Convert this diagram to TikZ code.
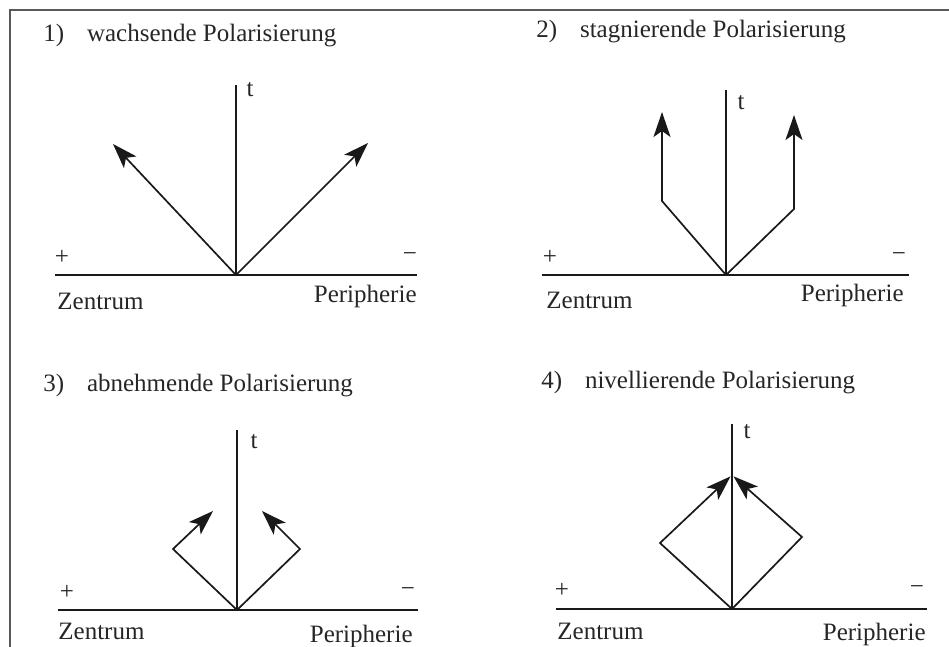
\documentclass[tikz,border=0pt]{standalone}
\usepackage{fontspec}
\setmainfont{Liberation Serif}
\usetikzlibrary{positioning,arrows.meta}

\begin{document}
\begin{tikzpicture}[x=0.5pt,y=-0.5pt,font=\fontsize{12.5}{15}\selectfont,>={Stealth[length=12.5pt,width=8.5pt,inset=3pt]},
   axis/.style={line width=0.8pt,black!90},
   flow/.style={line width=0.85pt,black!90,->},
   lbl/.style={inner sep=0pt,text=black!85}]
  \useasboundingbox (0,0) rectangle (949,647);
  \draw[line width=0.7pt,black!65] (10,647) -- (10,10) -- (949,10);

  % 1) wachsende Polarisierung
  \coordinate (o1) at (236,275); \coordinate (t1) at (236,85);
  \coordinate (l1) at (55,275);  \coordinate (r1) at (417,275);
  \coordinate (a1) at (113,144); \coordinate (b1) at (368,143);
  \draw[axis] (l1)--(r1); \draw[axis] (o1)--(t1);
  \draw[flow] (o1)--(a1); \draw[flow] (o1)--(b1);
  \node[lbl,anchor=base west] (n1) at (43,42) {1)};
  \node[lbl,base right=11pt of n1] (h1) {wachsende Polarisierung};
  \node[lbl] (tt1) at (250,90) {t};
  \node[lbl] (p1) at (62,257) {+};
  \node[lbl] (m1) at (410,257) {−};
  \node[lbl,anchor=base west] (z1) at (57,309) {Zentrum};
  \node[lbl,anchor=base east] (q1) at (417,302) {Peripherie};

  % 2) stagnierende Polarisierung
  \coordinate (o2) at (726,275); \coordinate (t2) at (726,90);
  \coordinate (l2) at (542,275); \coordinate (r2) at (909,275);
  \coordinate (a2) at (662,201); \coordinate (b2) at (794,209);
  \coordinate (c2) at (662,112); \coordinate (d2) at (794,115);
  \draw[axis] (l2)--(r2); \draw[axis] (o2)--(t2);
  \draw[flow] (o2)--(a2)--(c2); \draw[flow] (o2)--(b2)--(d2);
  \node[lbl,anchor=base west] (n2) at (536,38) {2)};
  \node[lbl,base right=11pt of n2] (h2) {stagnierende Polarisierung};
  \node[lbl] (tt2) at (741,103) {t};
  \node[lbl] (p2) at (550,257) {+};
  \node[lbl] (m2) at (899,257) {−};
  \node[lbl,anchor=base west] (z2) at (546,308) {Zentrum};
  \node[lbl,anchor=base east] (q2) at (904,301) {Peripherie};

  % 3) abnehmende Polarisierung
  \coordinate (o3) at (237,610); \coordinate (t3) at (237,430);
  \coordinate (l3) at (58,610);  \coordinate (r3) at (418,610);
  \coordinate (a3) at (173,549); \coordinate (b3) at (300,549);
  \coordinate (c3) at (213,511); \coordinate (d3) at (262,511);
  \draw[axis] (l3)--(r3); \draw[axis] (o3)--(t3);
  \draw[flow] (o3)--(a3)--(c3); \draw[flow] (o3)--(b3)--(d3);
  \node[lbl,anchor=base west] (n3) at (43,391) {3)};
  \node[lbl,base right=11pt of n3] (h3) {abnehmende Polarisierung};
  \node[lbl] (tt3) at (254,442) {t};
  \node[lbl] (p3) at (67,592) {+};
  \node[lbl] (m3) at (408,592) {−};
  \node[lbl,anchor=base west] (z3) at (58,639) {Zentrum};
  \node[lbl,anchor=base east] (q3) at (413,642) {Peripherie};

  % 4) nivellierende Polarisierung
  \coordinate (o4) at (732,609); \coordinate (t4) at (732,424);
  \coordinate (l4) at (556,609); \coordinate (r4) at (927,609);
  \coordinate (a4) at (660,543); \coordinate (b4) at (802,537);
  \coordinate (c4) at (732,475);
  \draw[axis] (l4)--(r4); \draw[axis] (o4)--(t4);
  \draw[flow,shorten >=1pt] (o4)--(a4)--(c4); \draw[flow,shorten >=1pt] (o4)--(b4)--(c4);
  \node[lbl,anchor=base west] (n4) at (541,388) {4)};
  \node[lbl,base right=11pt of n4] (h4) {nivellierende Polarisierung};
  \node[lbl] (tt4) at (747,432) {t};
  \node[lbl] (p4) at (562,590) {+};
  \node[lbl] (m4) at (917,590) {−};
  \node[lbl,anchor=base west] (z4) at (557,639) {Zentrum};
  \node[lbl,anchor=base east] (q4) at (926,640) {Peripherie};
\end{tikzpicture}
\end{document}
